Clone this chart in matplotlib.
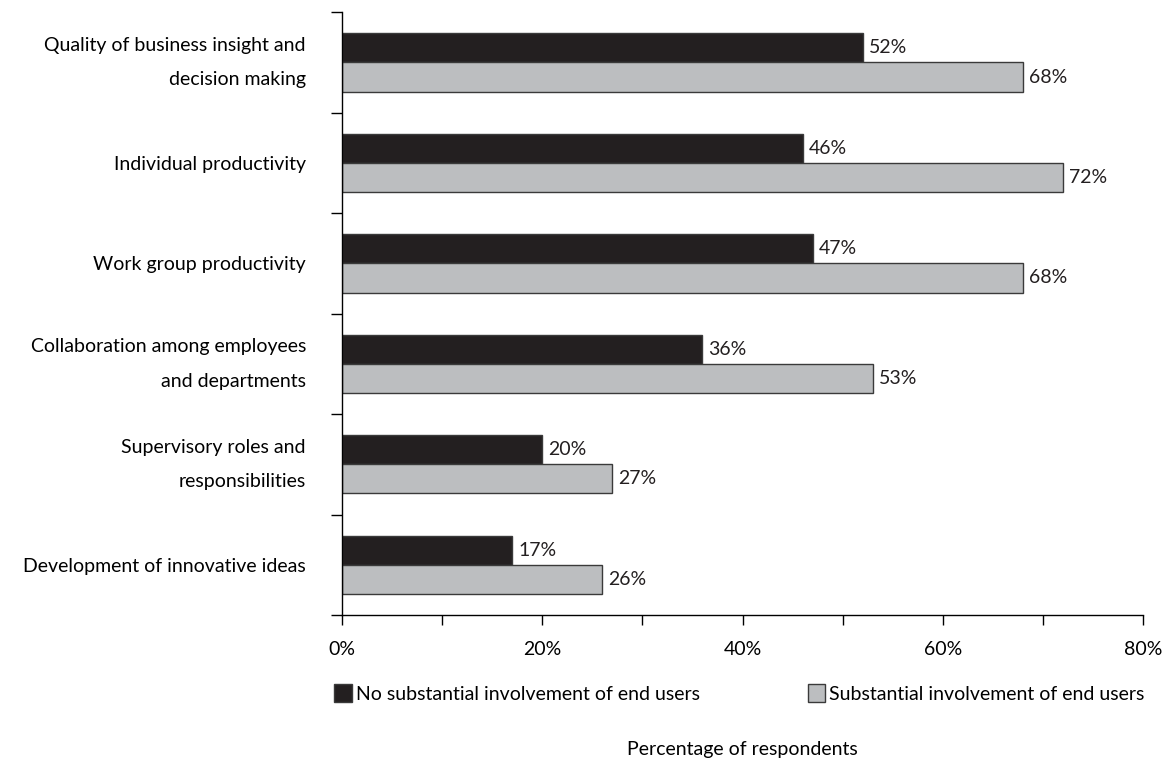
import matplotlib
matplotlib.use('Agg')
import matplotlib.pyplot as plt
from matplotlib.patches import Patch
import numpy as np

plt.rcParams['font.family'] = ['Lato', 'DejaVu Sans']

categories = ['Quality of business insight and\ndecision making',
              'Individual productivity',
              'Work group productivity',
              'Collaboration among employees\nand departments',
              'Supervisory roles and\nresponsibilities',
              'Development of innovative ideas']
no_involvement = [52, 46, 47, 36, 20, 17]
involvement = [68, 72, 68, 53, 27, 26]
series_names = ['No substantial involvement of end users',
                'Substantial involvement of end users']
x_ticks = [0, 10, 20, 30, 40, 50, 60, 70, 80]
x_tick_labels = ['0%', '', '20%', '', '40%', '', '60%', '', '80%']

dark = '#231f20'
grey = '#bcbec0'
fs = 14

fig = plt.figure(figsize=(11.69, 7.65), dpi=100)
ax = fig.add_axes([0.2926, 0.196, 0.6852, 0.788])

pos = np.arange(len(categories))
h = 0.29
ax.barh(pos + 0.355, no_involvement, height=h, color=dark, edgecolor='#3a3a3a', linewidth=1)
ax.barh(pos + 0.645, involvement, height=h, color=grey, edgecolor='#3a3a3a', linewidth=1)

for i, (a, b) in enumerate(zip(no_involvement, involvement)):
    ax.text(a + 0.6, i + 0.355, f'{a}%', va='center', ha='left', fontsize=fs, color='#231f20')
    ax.text(b + 0.6, i + 0.645, f'{b}%', va='center', ha='left', fontsize=fs, color='#231f20')

ax.set_ylim(len(categories), 0)
ax.set_xlim(0, 80)

# group separators as y ticks, category names on minor ticks at group centres
ax.set_yticks(np.arange(len(categories) + 1))
ax.set_yticklabels([])
ax.set_yticks(pos + 0.5, minor=True)
ax.set_yticklabels(categories, minor=True, fontsize=fs, linespacing=2.25, ha='right')
for lab in ax.get_yticklabels(minor=True):
    if '\n' in lab.get_text():
        lab.set_va('center')
ax.tick_params(axis='y', which='major', length=8, width=1, direction='out')
ax.tick_params(axis='y', which='minor', length=0, pad=26)

ax.set_xticks(x_ticks)
ax.set_xticklabels(x_tick_labels, fontsize=fs)
ax.tick_params(axis='x', which='major', length=7, width=1, direction='out', pad=12)

for s in ['top', 'right']:
    ax.spines[s].set_visible(False)
ax.spines['left'].set_linewidth(1)
ax.spines['bottom'].set_linewidth(1)

h1 = [Patch(facecolor=dark, edgecolor='#3a3a3a')]
h2 = [Patch(facecolor=grey, edgecolor='#3a3a3a')]
leg1 = fig.legend(h1, series_names[:1], loc='center left', bbox_to_anchor=(0.286, 0.094),
                  frameon=False, fontsize=fs, handlelength=0.9, handleheight=1.1, handletextpad=0.2,
                  borderpad=0, borderaxespad=0)
leg2 = fig.legend(h2, series_names[1:], loc='center left', bbox_to_anchor=(0.691, 0.094),
                  frameon=False, fontsize=fs, handlelength=0.9, handleheight=1.1, handletextpad=0.2,
                  borderpad=0, borderaxespad=0)

fig.text(0.635, 0.02, 'Percentage of respondents', ha='center', va='center', fontsize=fs)

fig.savefig('out.png', dpi=100)
